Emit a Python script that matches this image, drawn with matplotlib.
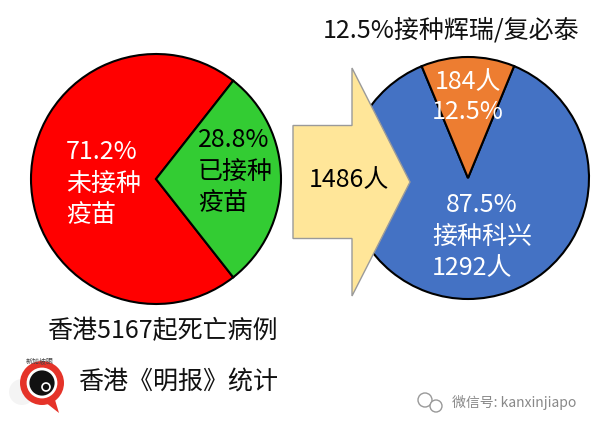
import numpy as np
import matplotlib.pyplot as plt
from matplotlib.patches import Circle, FancyArrow, Polygon

plt.rcParams['font.family'] = ['Noto Sans CJK SC', 'DejaVu Sans']

# 香港5167起死亡病例
total_deaths = 5167
left_pct = [71.2, 28.8]
left_lines = [['71.2%', '未接种', '疫苗'], ['28.8%', '已接种', '疫苗']]
left_colors = ['#FF0000', '#33CC33']

# 已接种 1486 人
vacc_total = 1486
right_counts = [1292, 184]
right_pct = [87.5, 12.5]
right_colors = ['#4472C4', '#ED7D31']

W, H = 601, 430
fig = plt.figure(figsize=(W / 100, H / 100), dpi=100)
ax = fig.add_axes([0, 0, 1, 1])

def py(y):
    # pixel row -> data y
    return H - y

# left pie
ax.pie(left_pct, colors=left_colors, startangle=left_pct[1] * 3.6 / 2,
       center=(156, py(179)), radius=125,
       wedgeprops=dict(edgecolor='black', linewidth=1.5))

# right pie
ax.pie(right_counts, colors=right_colors, startangle=90 + right_pct[1] * 3.6 / 2,
       center=(468, py(178)), radius=121,
       wedgeprops=dict(edgecolor='black', linewidth=1.5))

# arrow between pies
arr = FancyArrow(293, py(182), 117, 0, width=113, head_width=228, head_length=58,
                 length_includes_head=True, facecolor='#FFE699',
                 edgecolor='#9a9a9a', linewidth=1, zorder=5)
ax.add_patch(arr)

fs = 18
txt = dict(fontsize=fs, va='center')

# left pie labels
for i, line in enumerate(left_lines[0]):
    ax.text(66, py(152 + 31.5 * i), line, color='white', ha='left', **txt)
for i, line in enumerate(left_lines[1]):
    ax.text(198, py(140 + 31.5 * i), line, color='black', ha='left', **txt)

ax.text(349, py(180), f'{vacc_total}人', color='black', ha='center', zorder=6, **txt)

# right pie labels
ax.text(468, py(82), f'{right_counts[1]}人', color='white', ha='center', **txt)
ax.text(468, py(112), f'{right_pct[1]}%', color='white', ha='center', **txt)
ax.text(482, py(205), f'{right_pct[0]}%', color='white', ha='center', **txt)
ax.text(482, py(237), '接种科兴', color='white', ha='center', **txt)
ax.text(472, py(268), f'{right_counts[0]}人', color='white', ha='center', **txt)

ax.text(451, py(30), f'{right_pct[1]}%接种辉瑞/复必泰', color='#111111', ha='center', **txt)
ax.text(162, py(331), f'香港{total_deaths}起死亡病例', color='#111111', ha='center', **txt)
ax.text(178, py(382), '香港《明报》统计', color='#111111', ha='center', **txt)

# logo
ax.add_patch(Circle((22, py(392)), 13, facecolor='#f4f4f4', edgecolor='none'))
ax.add_patch(Polygon([(36, py(395)), (59, py(413)), (52, py(390))],
                     closed=True, facecolor='#E53329', edgecolor='none'))
ax.add_patch(Circle((42, py(383)), 22, facecolor='#E53329', edgecolor='none'))
ax.add_patch(Circle((42, py(383)), 14, facecolor='#111111', edgecolor='white', linewidth=2))
ax.add_patch(Circle((46, py(387)), 4, facecolor='none', edgecolor='white', linewidth=1.2))
ax.text(40, py(361), '新加坡眼', fontsize=5, color='#444444', ha='center', va='center')

# watermark
ax.add_patch(Circle((425, py(400)), 7, facecolor='white', edgecolor='#999999', linewidth=1))
ax.add_patch(Circle((436, py(406)), 6, facecolor='white', edgecolor='#999999', linewidth=1))
ax.text(452, py(403), '微信号: kanxinjiapo', fontsize=10, color='#888888',
        ha='left', va='center')

ax.set_xlim(0, W)
ax.set_ylim(0, H)
ax.set_aspect('equal')
ax.axis('off')

fig.savefig('out.png', dpi=100)
